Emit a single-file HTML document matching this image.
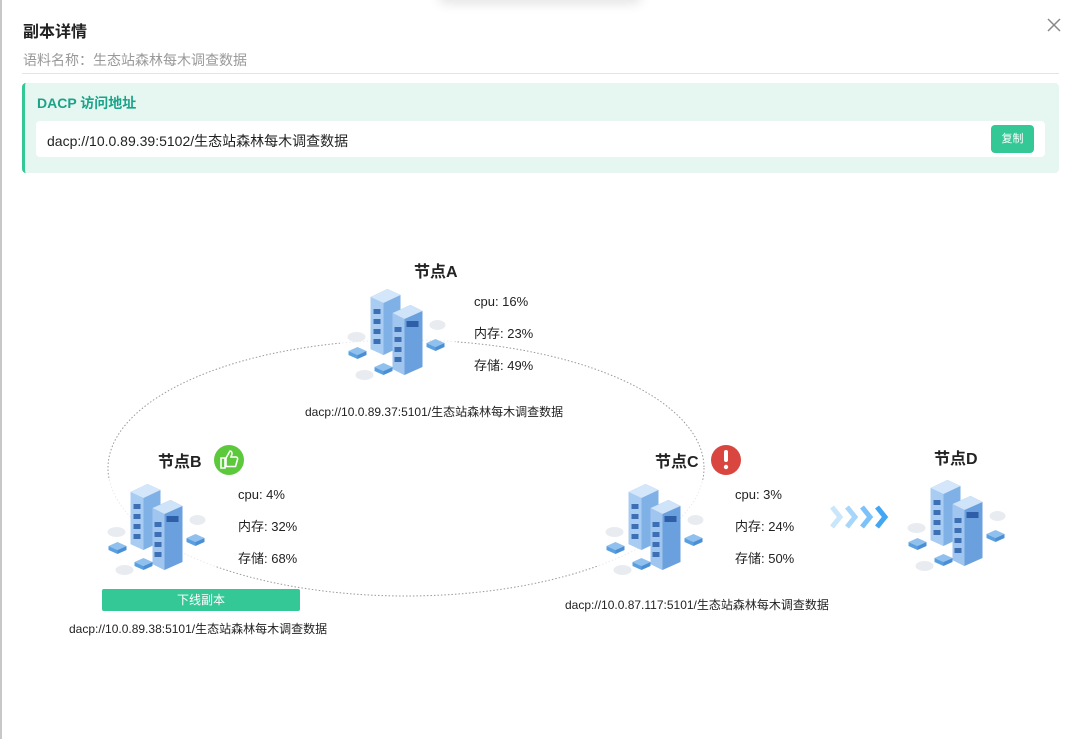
<!DOCTYPE html>
<html><head><meta charset="utf-8"><style>
body{margin:0;width:1080px;height:739px;background:#fff;overflow:hidden;font-family:"Liberation Sans","Noto Sans CJK SC",sans-serif;position:relative}
.t{position:absolute;white-space:nowrap}
</style></head><body>
<div style="position:absolute;left:0;top:0;width:2px;height:739px;background:#c8c8c8"></div>
<div style="position:absolute;left:440px;top:-10px;width:200px;height:10px;box-shadow:0 2px 12px rgba(0,0,0,0.15)"></div>
<div class="t" style="left:23px;top:18px;font-size:16px;font-weight:bold;color:#222">副本详情</div>
<div class="t" style="left:23px;top:50px;font-size:14px;color:#999">语料名称：生态站森林每木调查数据</div>
<div style="position:absolute;left:22px;top:73px;width:1037px;height:1px;background:#e4e4e4"></div>
<svg style="position:absolute;left:1047px;top:18px" width="14" height="14"><path d="M1 1L13 13M13 1L1 13" stroke="#888" stroke-width="1.5"/></svg>
<div style="position:absolute;left:22px;top:83px;width:1037px;height:90px;background:#e6f7f1;border-left:3px solid #34c896;border-radius:4px;box-sizing:border-box"></div>
<div class="t" style="left:37px;top:93px;font-size:14px;font-weight:bold;color:#1aa38a">DACP 访问地址</div>
<div style="position:absolute;left:36px;top:121px;width:1009px;height:36px;background:#fff;border-radius:4px"></div>
<div class="t" style="left:47px;top:131px;font-size:14px;color:#222">dacp://10.0.89.39:5102/生态站森林每木调查数据</div>
<div style="position:absolute;left:991px;top:125px;width:43px;height:28px;background:#34c896;border-radius:4px;color:#fff;font-size:11px;text-align:center;line-height:28px">复制</div>

<svg style="position:absolute;left:0;top:0" width="1080" height="739">
<defs>
<symbol id="srv" viewBox="0 0 110 100">
<ellipse cx="14" cy="52" rx="9" ry="5" fill="#e8ecf0"/><ellipse cx="95" cy="40" rx="8" ry="5" fill="#e8ecf0"/><ellipse cx="22" cy="90" rx="9" ry="5" fill="#e8ecf0"/>
<path d="M28 12L45 4L58 10L58 62L41 70L28 64Z" fill="#7fb0e6"/>
<path d="M28 12L41 18L41 70L28 64Z" fill="#a9cdf2"/>
<path d="M28 12L45 4L58 10L41 18Z" fill="#d3e6fa"/>
<g fill="#3d6fb5"><rect x="31" y="24" width="7" height="5"/><rect x="31" y="34" width="7" height="5"/><rect x="31" y="44" width="7" height="5"/><rect x="31" y="54" width="7" height="5"/></g>
<path d="M50 28L68 20L80 26L80 82L62 90L50 84Z" fill="#6aa0dd"/>
<path d="M50 28L62 34L62 90L50 84Z" fill="#a0c6f0"/>
<path d="M50 28L68 20L80 26L62 34Z" fill="#cfe3f9"/>
<rect x="64" y="36" width="12" height="6" fill="#2e5ea8"/>
<g fill="#3d6fb5"><rect x="52" y="42" width="7" height="5"/><rect x="52" y="52" width="7" height="5"/><rect x="52" y="62" width="7" height="5"/><rect x="52" y="72" width="7" height="5"/></g>
<path d="M6 66L15 62L24 66L15 70Z" fill="#8fc0ee"/><path d="M6 66L15 70L15 74L6 70Z" fill="#5aa0e0"/><path d="M24 66L15 70L15 74L24 70Z" fill="#4a8fd6"/>
<path d="M32 82L41 78L50 82L41 86Z" fill="#8fc0ee"/><path d="M32 82L41 86L41 90L32 86Z" fill="#5aa0e0"/><path d="M50 82L41 86L41 90L50 86Z" fill="#4a8fd6"/>
<path d="M84 58L93 54L102 58L93 62Z" fill="#8fc0ee"/><path d="M84 58L93 62L93 66L84 62Z" fill="#5aa0e0"/><path d="M102 58L93 62L93 66L102 62Z" fill="#4a8fd6"/>
</symbol>
</defs>
<ellipse cx="406" cy="468" rx="298" ry="128" fill="none" stroke="#999" stroke-width="1" stroke-dasharray="1.5 2"/>
<rect x="340" y="285" width="115" height="100" fill="#fff" opacity="0.8"/>
<use href="#srv" x="340" y="285" width="115" height="100"/>
<rect x="100" y="480" width="115" height="100" fill="#fff" opacity="0.8"/>
<use href="#srv" x="100" y="480" width="115" height="100"/>
<rect x="598" y="480" width="115" height="100" fill="#fff" opacity="0.8"/>
<use href="#srv" x="598" y="480" width="115" height="100"/>
<use href="#srv" x="900" y="476" width="115" height="100"/>
<circle cx="229" cy="460" r="15" fill="#5cc93c"/>
<path d="M221 458h4v10h-4zM226 458l4-7c2 0 2 2 2 3l-1 3h5c1 0 2 1 1.5 2.5l-2 7h-9.5z" fill="none" stroke="#fff" stroke-width="1.6"/>
<circle cx="726" cy="460" r="15" fill="#d9453f"/>
<rect x="724" y="450" width="4" height="12" rx="2" fill="#fff"/><circle cx="726" cy="467" r="2.2" fill="#fff"/>
<g stroke-width="5" fill="none" stroke-linejoin="miter">
<path d="M832 507l8 10-8 10" stroke="#c9e6fb"/><path d="M847 507l8 10-8 10" stroke="#a6d6fa"/><path d="M862 507l8 10-8 10" stroke="#7cc2f8"/><path d="M877 507l8 10-8 10" stroke="#42a6f3"/>
</g>
</svg>

<div class="t" style="left:414px;top:258px;font-size:16px;font-weight:bold;color:#222">节点A</div>
<div class="t" style="left:474px;top:294px;font-size:13px;color:#222;line-height:16px">cpu: 16%</div>
<div class="t" style="left:474px;top:326px;font-size:13px;color:#222;line-height:16px">内存: 23%</div>
<div class="t" style="left:474px;top:358px;font-size:13px;color:#222;line-height:16px">存储: 49%</div>
<div class="t" style="left:305px;top:403px;font-size:12px;color:#222">dacp://10.0.89.37:5101/生态站森林每木调查数据</div>

<div class="t" style="left:158px;top:448px;font-size:16px;font-weight:bold;color:#222">节点B</div>
<div class="t" style="left:238px;top:487px;font-size:13px;color:#222;line-height:16px">cpu: 4%</div>
<div class="t" style="left:238px;top:519px;font-size:13px;color:#222;line-height:16px">内存: 32%</div>
<div class="t" style="left:238px;top:551px;font-size:13px;color:#222;line-height:16px">存储: 68%</div>
<div style="position:absolute;left:102px;top:589px;width:198px;height:22px;background:#34c896;border-radius:2px;color:#fff;font-size:12px;text-align:center;line-height:22px">下线副本</div>
<div class="t" style="left:69px;top:620px;font-size:12px;color:#222">dacp://10.0.89.38:5101/生态站森林每木调查数据</div>

<div class="t" style="left:655px;top:448px;font-size:16px;font-weight:bold;color:#222">节点C</div>
<div class="t" style="left:735px;top:487px;font-size:13px;color:#222;line-height:16px">cpu: 3%</div>
<div class="t" style="left:735px;top:519px;font-size:13px;color:#222;line-height:16px">内存: 24%</div>
<div class="t" style="left:735px;top:551px;font-size:13px;color:#222;line-height:16px">存储: 50%</div>
<div class="t" style="left:565px;top:596px;font-size:12px;color:#222">dacp://10.0.87.117:5101/生态站森林每木调查数据</div>

<div class="t" style="left:934px;top:445px;font-size:16px;font-weight:bold;color:#222">节点D</div>
</body></html>
